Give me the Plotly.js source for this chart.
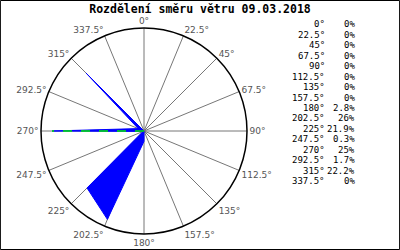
<!DOCTYPE html>
<html><head><meta charset="utf-8">
<script src="https://cdn.plot.ly/plotly-3.0.1.min.js"></script>
<style>html,body{margin:0;padding:0;background:#fff}#c{width:400px;height:250px}</style>
</head><body><div id="c"></div>
<script>
const directions = [0, 22.5, 45, 67.5, 90, 112.5, 135, 157.5, 180, 202.5, 225, 247.5, 270, 292.5, 315, 337.5];
const dirLabels = ["0°","22.5°","45°","67.5°","90°","112.5°","135°","157.5°","180°","202.5°","225°","247.5°","270°","292.5°","315°","337.5°"];
const shares = [0, 0, 0, 0, 0, 0, 0, 0, 2.8, 26, 21.9, 0.3, 25, 1.7, 22.2, 0];
const shareLabels = ["0%","0%","0%","0%","0%","0%","0%","0%","2.8%","26%","21.9%","0.3%","25%","1.7%","22.2%","0%"];
const title = "Rozdělení směru větru 09.03.2018";

const rClosed = shares.concat([shares[0]]);
const tClosed = directions.concat([directions[0]]);

const traces = [
  {type:'scatterpolar', r:rClosed, theta:tClosed, mode:'lines', fill:'toself',
   fillcolor:'#0000ff', line:{color:'#0000ff', width:1}, hoverinfo:'skip'},
  {type:'scatterpolar', r:[0, shares[12]], theta:[directions[12], directions[12]], mode:'lines',
   line:{color:'#00ee00', width:1.5, dash:'dash'}, hoverinfo:'skip'}
];

const annotations = [];
const y0 = 24.5, dy = 10.43;
for (let i = 0; i < directions.length; i++) {
  const y = 1 - (y0 + i*dy)/250;
  annotations.push({xref:'paper', yref:'paper', x:327/400, y:y, xanchor:'right', yanchor:'middle',
    text:dirLabels[i], showarrow:false, font:{family:'DejaVu Sans Mono', size:9, color:'#000'}});
  annotations.push({xref:'paper', yref:'paper', x:357/400, y:y, xanchor:'right', yanchor:'middle',
    text:shareLabels[i], showarrow:false, font:{family:'DejaVu Sans Mono', size:9, color:'#000'}});
}

const layout = {
  width:400, height:250, margin:{l:0, r:0, t:0, b:0},
  paper_bgcolor:'#fff', showlegend:false,
  title:{text:'<b>'+title+'</b>', x:0.5, xanchor:'center', y:1-8.5/250, yanchor:'middle',
    font:{family:'DejaVu Sans Mono', size:11.5, color:'#000'}},
  polar:{
    domain:{x:[41/400, 247/400], y:[16/250, 222/250]},
    bgcolor:'#fff',
    radialaxis:{visible:false, range:[0, 28]},
    angularaxis:{rotation:90, direction:'clockwise', thetaunit:'degrees',
      tickmode:'array', tickvals:directions, ticktext:dirLabels, ticks:'',
      showgrid:true, gridcolor:'#777', gridwidth:1,
      showline:true, linecolor:'#000', linewidth:1.5,
      tickfont:{family:'DejaVu Sans, sans-serif', size:9, color:'#555'}}
  },
  annotations:annotations,
  shapes:[{type:'rect', xref:'paper', yref:'paper', x0:0.001, x1:0.999, y0:0.002, y1:0.998,
    line:{color:'#000', width:1}}]
};
Plotly.newPlot('c', traces, layout, {staticPlot:true, displayModeBar:false});
</script></body></html>
